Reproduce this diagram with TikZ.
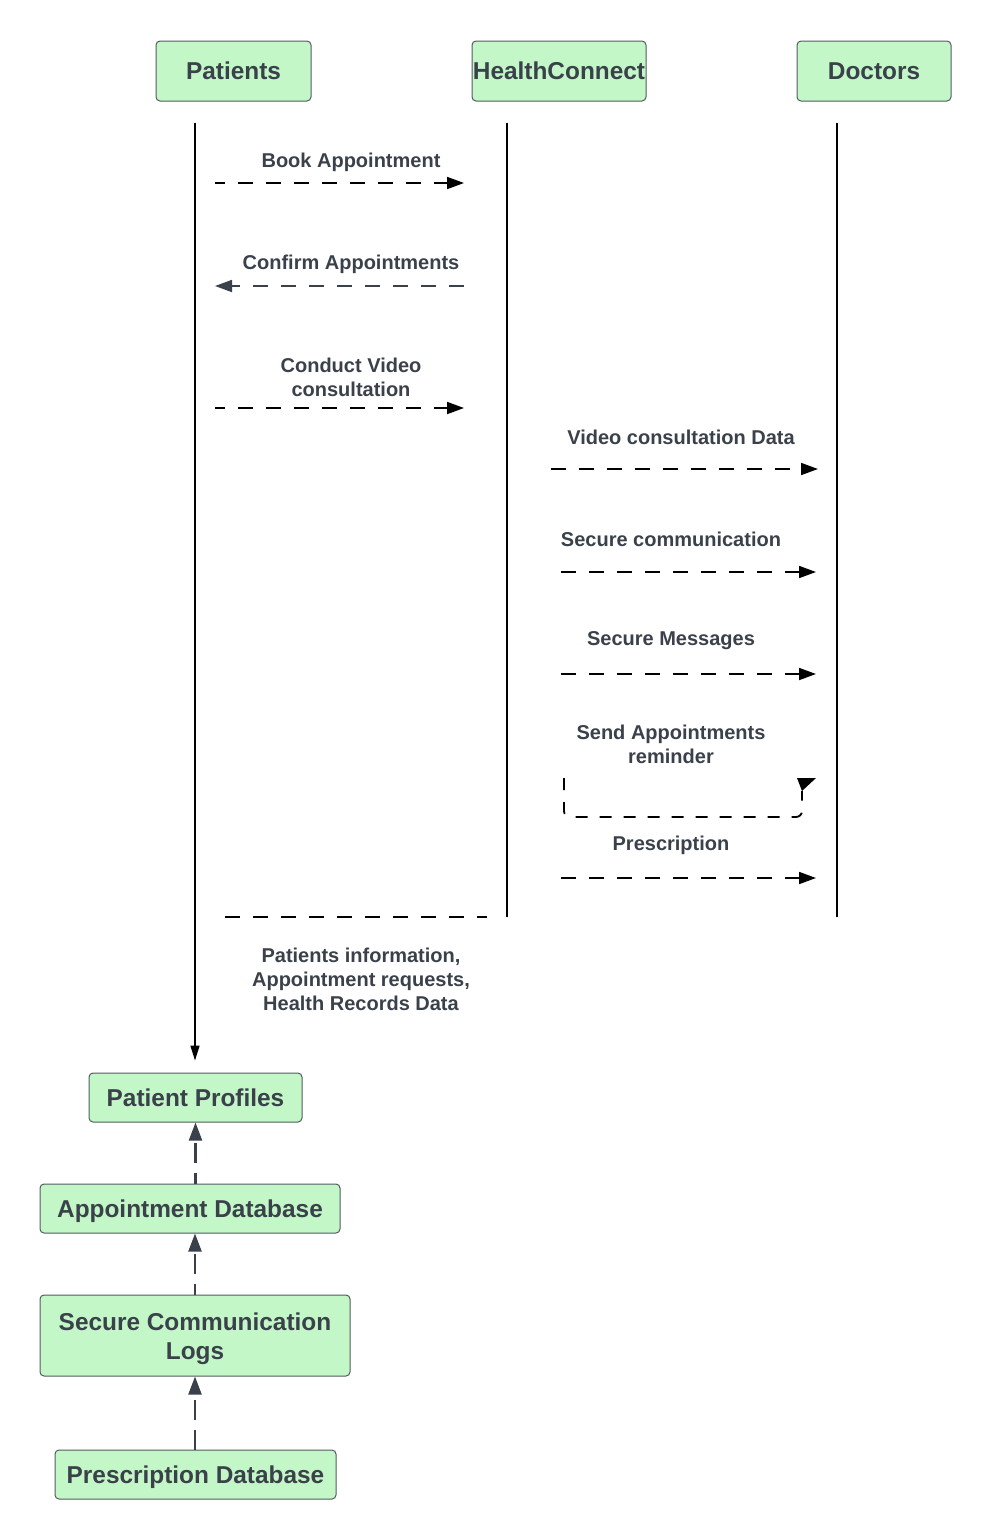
\documentclass[tikz,border=0pt]{standalone}
\usepackage{fontspec}
\setmainfont{Liberation Sans}
\usetikzlibrary{arrows.meta}
\definecolor{ink}{RGB}{58,65,74}
\definecolor{boxfill}{RGB}{195,247,200}
\definecolor{boxline}{RGB}{84,90,96}
\begin{document}
\begin{tikzpicture}[x=1pt,y=-1pt,
  actor/.style={draw=boxline, fill=boxfill, rounded corners=4pt, line width=1pt,
    inner sep=0pt, font=\fontsize{24.4}{29}\selectfont\bfseries, text=ink, align=center},
  oneline/.style={text height=19.5pt, text depth=2pt},
  msg/.style={font=\fontsize{20}{24}\selectfont\bfseries, text=ink, align=center},
  lifeline/.style={line width=1.6pt, black},
  call/.style={line width=1.8pt, black, dash pattern=on 15pt off 13pt,
    -{Triangle[length=17pt,width=12pt]}},
  reply/.style={line width=1.8pt, ink, dash pattern=on 15pt off 13pt,
    -{Triangle[length=17pt,width=12pt]}},
  store/.style={line width=2.2pt, ink, dash pattern=on 20pt off 10pt,
    -{Triangle[length=18pt,width=13pt]}},
]
\useasboundingbox (0,0) rectangle (992,1540);

% participants
\node[actor, oneline, minimum width=155pt, minimum height=60pt] (pat) at (233.5,71) {Patients};
\node[actor, oneline, minimum width=174pt, minimum height=60pt] (hc) at (559,71) {HealthConnect};
\node[actor, oneline, minimum width=154pt, minimum height=60pt] (doc) at (874,71) {Doctors};

% data stores
\node[actor, oneline, minimum width=213pt, minimum height=49pt] (pp) at (195.5,1097.5) {Patient Profiles};
\node[actor, oneline, minimum width=300pt, minimum height=49pt] (adb) at (190,1208.5) {Appointment Database};
\node[actor, minimum width=310pt, minimum height=81pt] (scl) at (195,1335.5)
  {\rule{0pt}{25pt}Secure Communication\\Logs};
\node[actor, oneline, minimum width=281pt, minimum height=49pt] (pdb) at (195.5,1474.5) {Prescription Database};

% lifelines
\coordinate (patTop) at (195,123);
\coordinate (hcTop) at (507,123);
\coordinate (hcBot) at (507,917);
\coordinate (docTop) at (837,123);
\coordinate (docBot) at (837,917);
\draw[lifeline, -{Triangle[length=15pt,width=9pt]}] (patTop) -- ([yshift=12pt]pp.north -| patTop);
\draw[lifeline] (hcTop) -- (hcBot);
\draw[lifeline] (docTop) -- (docBot);

% messages between patients and the platform
\coordinate (m1a) at (215,183);   \coordinate (m1b) at (464,183);
\coordinate (m2a) at (464,286);   \coordinate (m2b) at (215,286);
\coordinate (m3a) at (215,408);   \coordinate (m3b) at (464,408);
\node[msg] (l1) at (351,162) {Book Appointment};
\draw[call, dash phase=5pt] (m1a) -- (m1b);
\node[msg] (l2) at (351,264) {Confirm Appointments};
\draw[reply] (m2a) -- (m2b);
\node[msg] (l3) at (351,377) {Conduct Video\\consultation};
\draw[call, dash phase=5pt] (m3a) -- (m3b);

% messages between the platform and doctors
\coordinate (m4a) at (551,469);   \coordinate (m4b) at (818,469);
\coordinate (m5a) at (561,572);   \coordinate (m5b) at (816,572);
\coordinate (m6a) at (561,674);   \coordinate (m6b) at (816,674);
\coordinate (m8a) at (561,878);   \coordinate (m8b) at (816,878);
\node[msg] (l4) at (681,437) {Video consultation Data};
\draw[call] (m4a) -- (m4b);
\node[msg] (l5) at (671,539) {Secure communication};
\draw[call] (m5a) -- (m5b);
\node[msg] (l6) at (671,641) {Secure Messages};
\draw[call] (m6a) -- (m6b);
\node[msg] (l7) at (671,744) {Send Appointments\\reminder};
% self message: dashed loop ending in a triangular head
\coordinate (m7a) at (564,778);
\coordinate (m7b) at (802,791);
\draw[line width=1.8pt, black, dash pattern=on 12pt off 12pt, rounded corners=6pt]
  (m7a) -- (564,817) -- (802,817) -- (m7b);
\fill[black] (797,778) -- (816,778) -- (m7b) -- cycle;
\node[msg] (l8) at (671,845) {Prescription};
\draw[call] (m8a) -- (m8b);

% data handed to storage
\coordinate (s1a) at (225,917);   \coordinate (s1b) at (487,917);
\draw[line width=1.8pt, black, dash pattern=on 15pt off 13pt] (s1a) -- (s1b);
\node[msg] (l9) at (361,979) {Patients information,\\Appointment requests,\\Health Records Data};

% storage chain
\draw[store, dash phase=9pt] (adb.north -| pp.south) -- (pp.south);
\draw[store, dash phase=9pt] (scl.north) -- (scl.north |- adb.south);
\draw[store] (pdb.north -| scl.south) -- (scl.south);
\end{tikzpicture}
\end{document}
